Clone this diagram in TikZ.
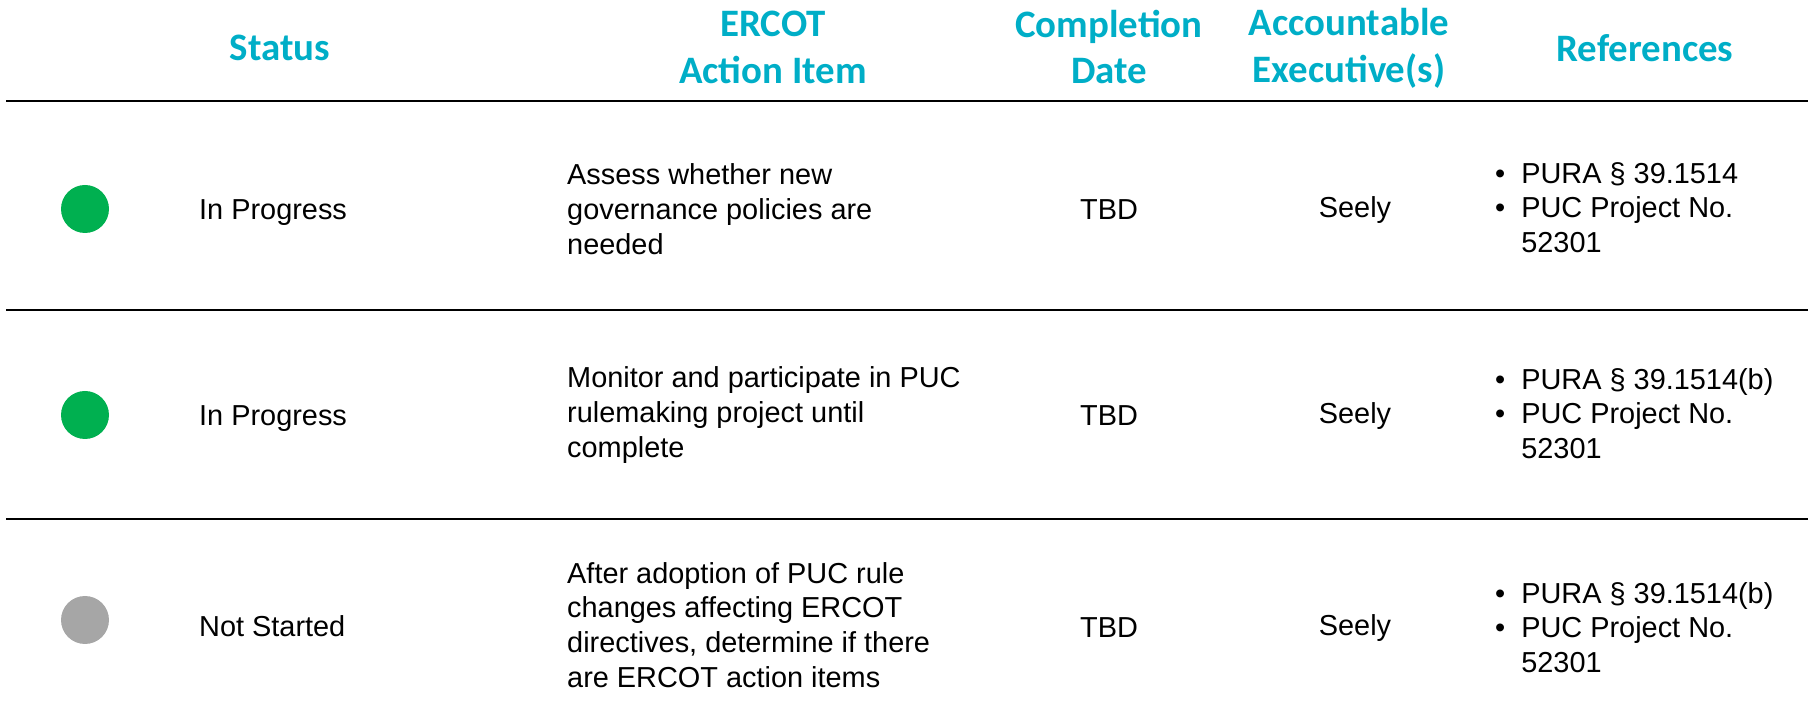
\documentclass[tikz,border=0pt]{standalone}
\usepackage{fontspec}
\setmainfont{Liberation Sans}
\newfontfamily\headfont{Carlito}
\usetikzlibrary{positioning}

\definecolor{headcol}{RGB}{0,174,199}
\definecolor{donegreen}{RGB}{0,176,80}
\definecolor{idlegray}{RGB}{166,166,166}

\tikzset{
  colhead/.style={font=\headfont\bfseries\fontsize{39}{47}\selectfont,text=headcol,align=center,inner sep=0pt},
  cell/.style={font=\fontsize{29}{35}\selectfont,align=left,inner sep=0pt,anchor=west},
  midcell/.style={font=\fontsize{29}{35}\selectfont,inner sep=0pt},
  rowrule/.style={line width=2.4bp},
  statusdot/.style={circle,inner sep=0pt,minimum size=48bp},
}

\begin{document}
\begin{tikzpicture}[line join=bevel]
\useasboundingbox (0bp,0bp) rectangle (1808bp,726bp);
% column heads
\node[colhead] (hstatus) at (280bp,678bp) {Status};
\node[colhead] (hitem) at (773bp,679bp) {ERCOT\\Action Item};
\node[colhead] (hdate) at (1109bp,679bp) {Completion\\Date};
\node[colhead] (hexec) at (1349bp,678bp) {Accountable\\Executive(s)};
\node[colhead] (hrefs) at (1645bp,678bp) {References};
% rules
\coordinate (r0w) at (6bp,625bp);
\coordinate (r0e) at (1808bp,625bp);
\coordinate (r1w) at (6bp,416bp);
\coordinate (r1e) at (1808bp,416bp);
\coordinate (r2w) at (6bp,207bp);
\coordinate (r2e) at (1808bp,207bp);
\draw [rowrule] (r0w) -- (r0e);
\draw [rowrule] (r1w) -- (r1e);
\draw [rowrule] (r2w) -- (r2e);
% row 1
\begin{scope}
\node[statusdot,fill=donegreen] (dot1) at (85bp,517bp) {};
\node[cell] (stat1) at (199bp,513.5bp) {In Progress};
\node[cell] (item1) at (567bp,517bp) {Assess whether new\\governance policies are\\needed};
\node[midcell] (date1) at (1109bp,516bp) {TBD};
\node[midcell] (exec1) at (1355bp,516bp) {Seely};
\node[cell] (refs1) at (1495bp,515bp) {\begin{tabular}{@{}l@{\hspace{16bp}}l@{}}•&PURA § 39.1514\\•&PUC Project No.\\&52301\end{tabular}};
\end{scope}
% row 2
\begin{scope}
\node[statusdot,fill=donegreen] (dot2) at (85bp,311bp) {};
\node[cell] (stat2) at (199bp,307bp) {In Progress};
\node[cell] (item2) at (567bp,311bp) {Monitor and participate in PUC\\rulemaking project until\\complete};
\node[midcell] (date2) at (1109bp,310bp) {TBD};
\node[midcell] (exec2) at (1355bp,310bp) {Seely};
\node[cell] (refs2) at (1495bp,309bp) {\begin{tabular}{@{}l@{\hspace{16bp}}l@{}}•&PURA § 39.1514(b)\\•&PUC Project No.\\&52301\end{tabular}};
\end{scope}
% row 3
\begin{scope}
\node[statusdot,fill=idlegray] (dot3) at (85bp,106bp) {};
\node[cell] (stat3) at (199bp,100bp) {Not Started};
\node[cell] (item3) at (567bp,101bp) {After adoption of PUC rule\\changes affecting ERCOT\\directives, determine if there\\are ERCOT action items};
\node[midcell] (date3) at (1109bp,98bp) {TBD};
\node[midcell] (exec3) at (1355bp,98bp) {Seely};
\node[cell] (refs3) at (1495bp,95bp) {\begin{tabular}{@{}l@{\hspace{16bp}}l@{}}•&PURA § 39.1514(b)\\•&PUC Project No.\\&52301\end{tabular}};
\end{scope}
\end{tikzpicture}
\end{document}
